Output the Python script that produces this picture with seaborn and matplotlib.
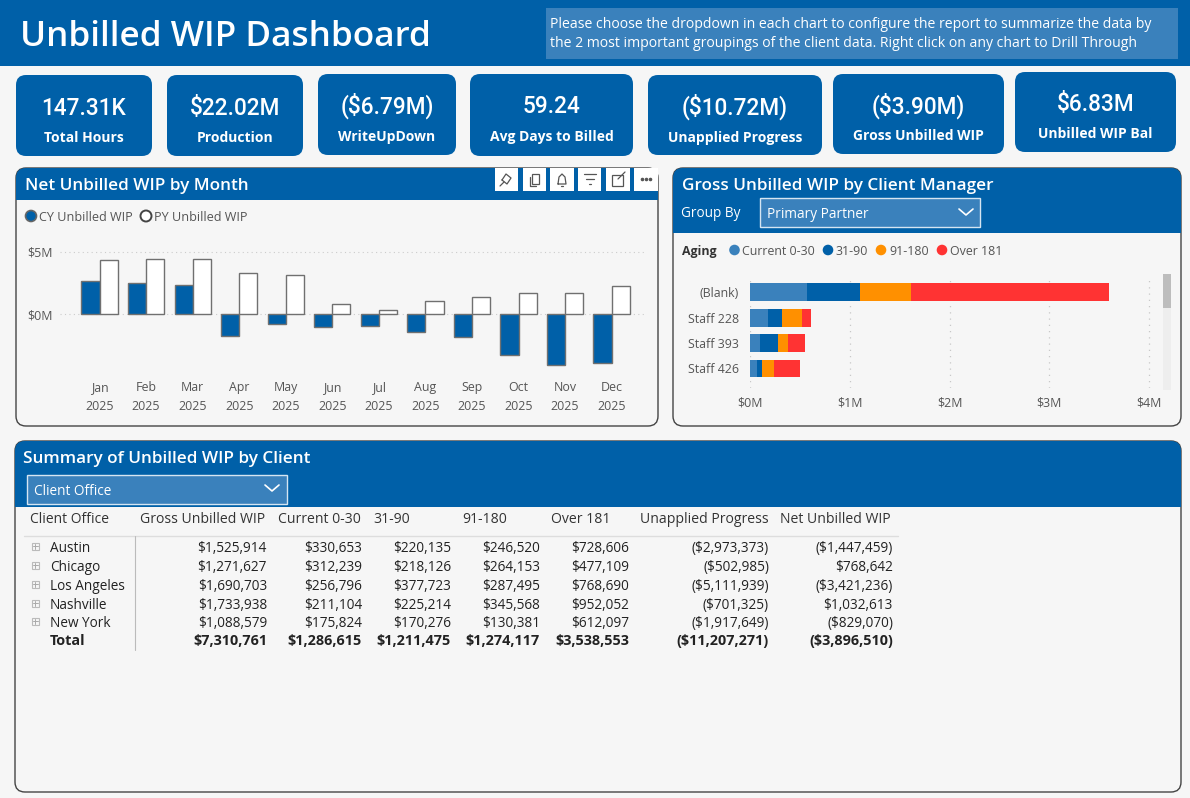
import matplotlib
matplotlib.use("Agg")
import matplotlib.pyplot as plt
from matplotlib.patches import FancyBboxPatch, Rectangle, Circle
import numpy as np
import pandas as pd
import seaborn as sns

# ---------- data ----------
kpi_values = ["147.31K", "$22.02M", "($6.79M)", "59.24", "($10.72M)", "($3.90M)", "$6.83M"]
kpi_labels = ["Total Hours", "Production", "WriteUpDown", "Avg Days to Billed",
              "Unapplied Progress", "Gross Unbilled WIP", "Unbilled WIP Bal"]

months = ["Jan", "Feb", "Mar", "Apr", "May", "Jun", "Jul", "Aug", "Sep", "Oct", "Nov", "Dec"]
cy_wip = [2.62, 2.46, 2.30, -1.74, -0.78, -1.07, -0.96, -1.42, -1.82, -3.26, -4.12, -3.93]
py_wip = [4.33, 4.39, 4.44, 3.32, 3.10, 0.83, 0.29, 1.02, 1.34, 1.69, 1.66, 2.27]

managers = ["(Blank)", "Staff 228", "Staff 393", "Staff 426"]
aging_names = ["Current 0-30", "31-90", "91-180", "Over 181"]
aging_current = [0.57, 0.174, 0.10, 0.067]
aging_31_90 = [0.528, 0.14, 0.177, 0.053]
aging_91_180 = [0.51, 0.204, 0.097, 0.114]
aging_over = [1.995, 0.087, 0.177, 0.267]

table_headers = ["Gross Unbilled WIP", "Current 0-30", "31-90", "91-180", "Over 181",
                 "Unapplied Progress", "Net Unbilled WIP"]
offices = ["Austin", "Chicago", "Los Angeles", "Nashville", "New York", "Total"]
col_gross = ["$1,525,914", "$1,271,627", "$1,690,703", "$1,733,938", "$1,088,579", "$7,310,761"]
col_current = ["$330,653", "$312,239", "$256,796", "$211,104", "$175,824", "$1,286,615"]
col_31_90 = ["$220,135", "$218,126", "$377,723", "$225,214", "$170,276", "$1,211,475"]
col_91_180 = ["$246,520", "$264,153", "$287,495", "$345,568", "$130,381", "$1,274,117"]
col_over = ["$728,606", "$477,109", "$768,690", "$952,052", "$612,097", "$3,538,553"]
col_unapplied = ["($2,973,373)", "($502,985)", "($5,111,939)", "($701,325)", "($1,917,649)", "($11,207,271)"]
col_net = ["($1,447,459)", "$768,642", "($3,421,236)", "$1,032,613", "($829,070)", "($3,896,510)"]

# ---------- style ----------
BLUE = "#0060A8"
LBLUE = "#3A81BC"
ORANGE = "#FF9000"
RED = "#FF3333"
BG = "#F6F6F6"
GREY = "#555555"
DARK = "#333333"
FONT = "Open Sans"
NUM = "Roboto"

sns.set_theme(style="white")
plt.rcParams["font.family"] = [FONT, "DejaVu Sans"]
plt.rcParams["font.stretch"] = "normal"

W, H = 1190, 798
fig = plt.figure(figsize=(W / 100, H / 100), dpi=100, facecolor=BG)
bg = fig.add_axes([0, 0, 1, 1])
bg.set_xlim(0, W)
bg.set_ylim(H, 0)
bg.axis("off")


def rbox(x0, y0, x1, y1, r, fc, ec="none", lw=0.0, z=1):
    p = FancyBboxPatch((x0 + r, y0 + r), x1 - x0 - 2 * r, y1 - y0 - 2 * r,
                       boxstyle=f"round,pad={r},rounding_size={r}",
                       fc=fc, ec=ec, lw=lw, zorder=z)
    bg.add_patch(p)
    return p


def txt(x, y, s, size=10, color=DARK, ha="left", weight="normal", family=FONT, z=5):
    bg.text(x, y + 1.2, s, fontsize=size, color=color, ha=ha, va="center",
            fontweight=weight, family=family, fontstretch="normal", zorder=z)


def axes_px(x0, y0, x1, y1):
    a = fig.add_axes([x0 / W, 1 - y1 / H, (x1 - x0) / W, (y1 - y0) / H])
    a.patch.set_alpha(0)
    return a


def chevron(cx, cy, w=7, h=6):
    bg.plot([cx - w, cx, cx + w], [cy - h / 2, cy + h / 2, cy - h / 2],
            color="white", lw=1.2, zorder=6)


def panel(x0, y0, x1, y1, header_bottom):
    p = rbox(x0, y0, x1, y1, 10, BG, ec="#444444", lw=1.0, z=1)
    hd = Rectangle((x0, y0), x1 - x0, header_bottom - y0, fc=BLUE, ec="none", zorder=2)
    bg.add_patch(hd)
    hd.set_clip_path(p)


# header band
bg.add_patch(Rectangle((0, 0), W, 66, fc=BLUE, ec="none", zorder=1))
txt(20, 35.5, "Unbilled WIP Dashboard", size=25.3, color="white", weight="semibold")
bg.add_patch(Rectangle((546, 8), 632, 51, fc=LBLUE, ec="none", zorder=2))
txt(550, 23, "Please choose the dropdown in each chart to configure the report to summarize the data by",
    size=10.05, color="white")
txt(550, 42, "the 2 most important groupings of the client data. Right click on any chart to Drill Through",
    size=10.05, color="white")

# KPI cards
card_boxes = [(16, 75, 152, 156), (167, 75, 303, 156), (318, 74, 456, 155), (470, 74, 633, 156),
              (648, 75, 822, 155), (833, 74, 1004, 154), (1015, 72, 1176, 152)]
value_y = [107, 107, 105, 105, 106, 105, 103]
label_y = [137, 137, 136, 136, 137, 135, 133]
for box, v, l, vy, ly in zip(card_boxes, kpi_values, kpi_labels, value_y, label_y):
    rbox(*box, 10, BLUE, z=2)
    cx = (box[0] + box[2]) / 2
    txt(cx, vy, v, size=16.3, color="white", ha="center", family=NUM, weight="medium")
    txt(cx, ly, l, size=10, color="white", ha="center", weight="bold")

# panels
panel(16, 168, 658, 426, 200)
panel(673, 168, 1181, 426, 233)
panel(15, 441, 1181, 792, 507)

# --- left panel ---
txt(25, 184.5, "Net Unbilled WIP by Month", size=12.35, color="white", weight="semibold")
for x0, x1 in [(495, 518), (523, 546), (550, 574), (578, 601), (606, 630), (634, 658)]:
    bg.add_patch(Rectangle((x0, 168), x1 - x0, 23, fc="white", ec="none", zorder=3))
ic = dict(color="#555555", lw=0.9, zorder=4)
bg.plot([502, 506, 511, 507, 502], [180, 174, 178, 184, 180], **ic)
bg.plot([500, 504], [186, 182], **ic)
bg.add_patch(Rectangle((532, 174), 7, 10, fc="none", ec="#555555", lw=0.9, zorder=4))
bg.plot([530, 530, 536], [177, 186, 186], **ic)
bg.plot([558, 559, 562, 565, 566, 558], [184, 177, 174, 177, 184, 184], **ic)
bg.plot([561, 563], [186, 186], **ic)
bg.plot([584, 596], [174, 174], **ic)
bg.plot([586, 594], [179, 179], **ic)
bg.plot([589, 591], [184, 184], **ic)
bg.add_patch(Rectangle((612, 175), 11, 11, fc="none", ec="#555555", lw=0.9, zorder=4))
bg.plot([618, 625], [179, 172], **ic)
bg.scatter([642, 646, 650], [179, 179, 179], s=2.5, color="#555555", zorder=4)

bg.add_patch(Circle((31, 216), 5.5, fc=BLUE, ec="#666666", lw=1.2, zorder=4))
txt(39, 216, "CY Unbilled WIP", size=9.1, color=GREY)
bg.add_patch(Circle((146, 216), 5.5, fc="white", ec="#444444", lw=1.4, zorder=4))
txt(154, 216, "PY Unbilled WIP", size=9.1, color=GREY)

# monthly bars: 0 at y=314 px, 12.46 px per $M, 46.55 px per month
ax1 = axes_px(60, 240, 647, 372)
df = pd.DataFrame({
    "month": months * 2,
    "value": cy_wip + py_wip,
    "series": ["CY"] * 12 + ["PY"] * 12,
})
ax1.yaxis.grid(True, color="#CCCCCC", linestyle=(0, (1, 3)), lw=0.8, zorder=0)
ax1.set_axisbelow(True)
sns.barplot(data=df, x="month", y="value", hue="series", order=months, hue_order=["CY", "PY"],
            palette={"CY": BLUE, "PY": "white"}, saturation=1, width=0.78, gap=0,
            edgecolor="#707070", linewidth=1.0, legend=False, errorbar=None, ax=ax1)
ax1.set_xlim(-0.85, 11.76)
ax1.set_ylim(-4.65, 5.94)
ax1.set_yticks([0, 5])
ax1.set_yticklabels(["$0M", "$5M"], fontsize=8.9, color=GREY)
ax1.set_xticks(range(12))
ax1.set_xticklabels([f"{m}\n2025" for m in months], fontsize=8.9, color=GREY, linespacing=1.55)
ax1.tick_params(axis="both", length=0)
ax1.tick_params(axis="x", pad=6.5)
ax1.tick_params(axis="y", pad=5.5)
ax1.set_xlabel("")
ax1.set_ylabel("")
sns.despine(ax=ax1, left=True, bottom=True)

# --- right panel ---
txt(682, 184.5, "Gross Unbilled WIP by Client Manager", size=12.35, color="white", weight="semibold")
txt(681, 212, "Group By", size=9.8, color="white")
bg.add_patch(Rectangle((760, 197.5), 219.5, 29.5, fc=LBLUE, ec="#D5E5F2", lw=1, zorder=3))
txt(767, 213, "Primary Partner", size=9.8, color="white")
chevron(966, 212)

txt(682, 250, "Aging", size=8.9, color=DARK, weight="bold")
aging_colors = [LBLUE, BLUE, ORANGE, RED]
for cx, tx, name, c in zip([734.5, 828, 881, 942], [742, 836, 889, 950], aging_names, aging_colors):
    bg.add_patch(Circle((cx, 250), 5.3, fc=c, ec="none", zorder=4))
    txt(tx, 250, name, size=8.9, color=GREY)

ax2 = axes_px(750.3, 277, 1158, 388)
ax2.xaxis.grid(True, color="#C8C8C8", linestyle=(0, (1, 4)), lw=0.9, zorder=0)
ax2.set_axisbelow(True)
left = np.zeros(len(managers))
for vals, c in zip([aging_current, aging_31_90, aging_91_180, aging_over], aging_colors):
    sns.barplot(x=vals, y=managers, order=managers, orient="h", color=c, saturation=1,
                width=0.7, left=left, errorbar=None, ax=ax2, linewidth=0)
    left = left + np.array(vals)
ax2.set_xlim(0, 4.09)
ax2.set_ylim(3.77, -0.60)
ax2.set_xticks(range(5))
ax2.set_xticklabels([f"${i}M" for i in range(5)], fontsize=8.9, color=GREY)
ax2.set_yticks(range(4))
ax2.set_yticklabels(managers, fontsize=8.9, color=GREY)
ax2.tick_params(axis="both", length=0)
ax2.tick_params(axis="x", pad=6)
ax2.tick_params(axis="y", pad=8)
ax2.set_xlabel("")
ax2.set_ylabel("")
sns.despine(ax=ax2, left=True, bottom=True)

bg.add_patch(Rectangle((1163, 274), 8, 116, fc="#EEEEEE", ec="none", zorder=3))
bg.add_patch(Rectangle((1163, 274), 8, 34, fc="#BDBDBD", ec="none", zorder=4))

# --- table panel ---
txt(23, 457.5, "Summary of Unbilled WIP by Client", size=12.35, color="white", weight="semibold")
bg.add_patch(Rectangle((27, 474.5), 260, 29.5, fc=LBLUE, ec="#D5E5F2", lw=1, zorder=3))
txt(34, 490, "Client Office", size=9.8, color="white")
chevron(272, 488)

hdr_x = [140, 278, 373, 462, 551, 640, 780]
right_x = [267, 362, 451, 540, 629, 769, 893]
row_y = [547, 566, 585, 604, 622, 640]
TS = 9.8
txt(30, 518, "Client Office", size=10, color=DARK)
for x, h in zip(hdr_x, table_headers):
    txt(x, 518, h, size=10.1, color=DARK)
bg.plot([24, 898], [535.5, 535.5], color="#DDDDDD", lw=1, zorder=3)
bg.plot([134.5, 134.5], [536, 650], color="#BBBBBB", lw=0.8, zorder=3)
columns = [col_gross, col_current, col_31_90, col_91_180, col_over, col_unapplied, col_net]
for i, (office, y) in enumerate(zip(offices, row_y)):
    is_total = office == "Total"
    w = "bold" if is_total else "normal"
    size = 10.4 if is_total else TS
    txt(50, y, office, size=size, color="#222222", weight=w)
    if not is_total:
        bg.add_patch(Rectangle((31.5, y - 4.5), 7.5, 7.5, fc="none", ec="#BBBBBB", lw=0.8, zorder=4))
        bg.plot([33, 37.5], [y - 0.75, y - 0.75], color="#AAAAAA", lw=0.7, zorder=4)
        bg.plot([35.25, 35.25], [y - 3, y + 1.5], color="#AAAAAA", lw=0.7, zorder=4)
    for x, col in zip(right_x, columns):
        txt(x, y, col[i], size=size, color="#222222", ha="right", weight=w)

fig.savefig("out.png", dpi=100, facecolor=BG)
